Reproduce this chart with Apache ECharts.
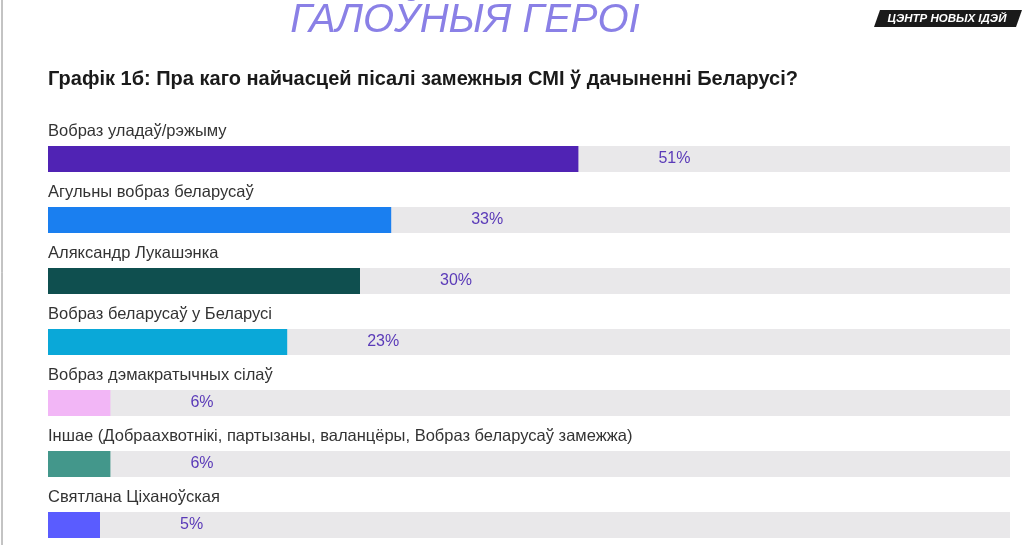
<!DOCTYPE html>
<html><head><meta charset="utf-8">
<script src="https://cdn.jsdelivr.net/npm/echarts@6/dist/echarts.min.js"></script>
<style>html,body{margin:0;padding:0;background:#fff}#c{width:1025px;height:545px}</style>
</head><body><div id="c"></div>
<script>
const categories = ["Вобраз уладаў/рэжыму","Агульны вобраз беларусаў","Аляксандр Лукашэнка","Вобраз беларусаў у Беларусі","Вобраз дэмакратычных сілаў","Іншае (Добраахвотнікі, партызаны, валанцёры, Вобраз беларусаў замежжа)","Святлана Ціханоўская"];
const values = [51,33,30,23,6,6,5];
const colors = ["#5023b4","#1a7ff0","#0f4f4f","#0aa8d8","#f2b6f6","#43978b","#5a5cff"];
const axisMax = 92.5;
const chart = echarts.init(document.getElementById('c'));
chart.setOption({
  animation:false,
  graphic:[
    {type:'text',x:465,y:1,style:{text:'ГАЛОЎНЫЯ ГЕРОІ',fontSize:40,fontStyle:'italic',fontFamily:'Liberation Sans',fill:'#8a80e6',align:'center'}},
    {type:'polygon',shape:{points:[[880,10],[1022,10],[1016,27],[874,27]]},style:{fill:'#1a1a1a'}},
    {type:'text',x:947,y:18.5,style:{text:'ЦЭНТР НОВЫХ ІДЭЙ',fontSize:11.5,fontWeight:'bold',fontStyle:'italic',fontFamily:'Liberation Sans',fill:'#fff',align:'center',verticalAlign:'middle'}},
    {type:'text',x:48,y:69,style:{text:'Графік 1б: Пра каго найчасцей пісалі замежныя СМІ ў дачыненні Беларусі?',fontSize:20,fontWeight:'bold',fontFamily:'Liberation Sans',fill:'#1a1a1a'}},
    {type:'line',shape:{x1:2,y1:0,x2:2,y2:545},style:{stroke:'#888',lineWidth:1}}
  ],
  grid:{left:48,right:15,top:128.5,height:427,outerBoundsMode:'none'},
  xAxis:{type:'value',min:0,max:axisMax,show:false},
  yAxis:{type:'category',data:categories,inverse:true,axisLine:{show:false},axisTick:{show:false},
    axisLabel:{inside:true,margin:0,verticalAlign:'bottom',padding:[0,0,19,0],fontSize:16.5,fontFamily:'Liberation Sans',color:'#333'}},
  series:[{type:'bar',data:values.map((v,i)=>({value:v,itemStyle:{color:colors[i]}})),barWidth:26,
    showBackground:true,backgroundStyle:{color:'#e9e8ea'},
    label:{show:true,position:'right',distance:80,formatter:'{c}%',fontSize:16,fontFamily:'Liberation Sans',color:'#5a3ab8'}}]
});
</script></body></html>
